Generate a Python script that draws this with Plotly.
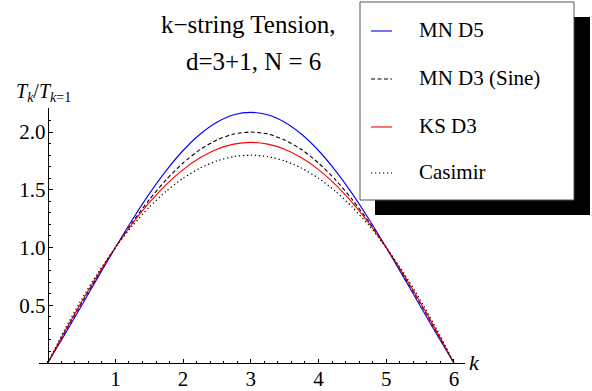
import plotly.graph_objects as go

# ---- data ----
k_values = [0, 0.25, 0.5, 0.75, 1, 1.25, 1.5, 1.75, 2, 2.25, 2.5, 2.75, 3,
            3.25, 3.5, 3.75, 4, 4.25, 4.5, 4.75, 5, 5.25, 5.5, 5.75, 6]
mn_d5 = [0, 0.245, 0.496, 0.750, 1, 1.240, 1.464, 1.666, 1.840, 1.981, 2.085, 2.149, 2.170,
         2.149, 2.085, 1.981, 1.840, 1.666, 1.464, 1.240, 1, 0.750, 0.496, 0.245, 0]
mn_d3_sine = [0, 0.261, 0.518, 0.765, 1, 1.218, 1.414, 1.587, 1.732, 1.848, 1.932, 1.983, 2.000,
              1.983, 1.932, 1.848, 1.732, 1.587, 1.414, 1.218, 1, 0.765, 0.518, 0.261, 0]
ks_d3 = [0, 0.270, 0.529, 0.773, 1, 1.206, 1.388, 1.545, 1.675, 1.777, 1.851, 1.895, 1.910,
         1.895, 1.851, 1.777, 1.675, 1.545, 1.388, 1.206, 1, 0.773, 0.529, 0.270, 0]
casimir = [0, 0.2875, 0.55, 0.7875, 1, 1.1875, 1.35, 1.4875, 1.6, 1.6875, 1.75, 1.7875, 1.8,
           1.7875, 1.75, 1.6875, 1.6, 1.4875, 1.35, 1.1875, 1, 0.7875, 0.55, 0.2875, 0]

series_names = ["MN D5", "MN D3 (Sine)", "KS D3", "Casimir"]
x_tick_vals = [1, 2, 3, 4, 5, 6]
x_tick_text = ["1", "2", "3", "4", "5", "6"]
y_tick_vals = [0.5, 1.0, 1.5, 2.0]
y_tick_text = ["0.5", "1.0", "1.5", "2.0"]
title_lines = ["k\u2212string Tension,", "d=3+1, N = 6"]

# ---- styling / layout ----
W, H = 592, 391
ML, MR, MT, MB = 39, 127, 108, 28
PW, PH = W - ML - MR, H - MT - MB
SERIF = "Liberation Serif"

styles = [
    dict(color="#0000ff", width=1.1, dash="solid"),
    dict(color="#000000", width=1.1, dash="4px,2.5px"),
    dict(color="#ff0000", width=1.1, dash="solid"),
    dict(color="#000000", width=1.2, dash="1.3px,2.7px"),
]


def px(x):
    return (x - ML) / PW


def py(y):
    return (H - MB - y) / PH


fig = go.Figure()
for name, ys, st in zip(series_names, [mn_d5, mn_d3_sine, ks_d3, casimir], styles):
    fig.add_trace(go.Scatter(x=k_values, y=ys, mode="lines", name=name,
                             line=dict(color=st["color"], width=st["width"],
                                       dash=st["dash"], shape="spline", smoothing=0.6),
                             showlegend=False, hoverinfo="skip"))

fig.update_layout(
    width=W, height=H, autosize=False,
    margin=dict(l=ML, r=MR, t=MT, b=MB, pad=0, autoexpand=False),
    paper_bgcolor="white", plot_bgcolor="white",
    font=dict(family=SERIF, color="black"),
    xaxis=dict(range=[-0.1285, 6.164], showgrid=False, zeroline=False, automargin=False,
               showline=True, linecolor="black", linewidth=1,
               tickmode="array", tickvals=x_tick_vals, ticktext=x_tick_text,
               ticks="inside", ticklen=4, tickwidth=1, tickcolor="black",
               ticklabelstandoff=-3,
               tickfont=dict(family=SERIF, size=21, color="black"),
               minor=dict(tickmode="linear", tick0=0, dtick=0.2, ticks="inside",
                          ticklen=2, tickwidth=1, tickcolor="black"),
               fixedrange=True),
    yaxis=dict(range=[0, 2.208], showgrid=False, zeroline=False, automargin=False,
               showline=True, linecolor="black", linewidth=1,
               anchor="free", position=px(47.7),
               tickmode="array", tickvals=y_tick_vals, ticktext=y_tick_text,
               ticks="inside", ticklen=4, tickwidth=1, tickcolor="black",
               ticklabelstandoff=-2,
               tickfont=dict(family=SERIF, size=21, color="black"),
               minor=dict(tickmode="linear", tick0=0, dtick=0.1, ticks="inside",
                          ticklen=2, tickwidth=1, tickcolor="black"),
               fixedrange=True),
)

annotations = []
# title lines
annotations.append(dict(text=title_lines[0], x=px(247.5), y=py(24), xref="paper", yref="paper",
                        xanchor="center", yanchor="middle", showarrow=False,
                        font=dict(family=SERIF, size=25, color="black")))
annotations.append(dict(text=title_lines[1], x=px(253.5), y=py(61), xref="paper", yref="paper",
                        xanchor="center", yanchor="middle", showarrow=False,
                        font=dict(family=SERIF, size=25, color="black")))
# axis labels
annotations.append(dict(text="<i>T</i><sub><i>k</i></sub>/<i>T</i><sub><i>k</i>=1</sub>",
                        x=px(14), y=py(92), xref="paper", yref="paper",
                        xanchor="left", yanchor="middle", showarrow=False,
                        font=dict(family=SERIF, size=20, color="black")))
annotations.append(dict(text="<i>k</i>", x=px(467), y=py(362), xref="paper", yref="paper",
                        xanchor="left", yanchor="middle", showarrow=False,
                        font=dict(family=SERIF, size=22, color="black")))

shapes = []
# legend shadow and box
shapes.append(dict(type="rect", xref="paper", yref="paper", layer="above",
                   x0=px(375), x1=px(590), y0=py(17), y1=py(215),
                   fillcolor="black", line=dict(width=0)))
shapes.append(dict(type="rect", xref="paper", yref="paper", layer="above",
                   x0=px(360), x1=px(574), y0=py(2), y1=py(200),
                   fillcolor="white", line=dict(color="#555555", width=1)))
row_y = [31, 79, 127, 173]
for name, st, yy in zip(series_names, styles, row_y):
    shapes.append(dict(type="line", xref="paper", yref="paper", layer="above",
                       x0=px(371), x1=px(392), y0=py(yy), y1=py(yy),
                       line=dict(color=st["color"], width=st["width"], dash=st["dash"])))
    annotations.append(dict(text=name, x=px(417), y=py(yy - 1), xref="paper", yref="paper",
                            xanchor="left", yanchor="middle", showarrow=False,
                            font=dict(family=SERIF, size=21, color="black")))

fig.update_layout(annotations=annotations, shapes=shapes)
fig.write_html("out.html", config=dict(displayModeBar=False),
               post_script="document.body.style.margin='0';"
                           "document.body.style.overflow='hidden';")
